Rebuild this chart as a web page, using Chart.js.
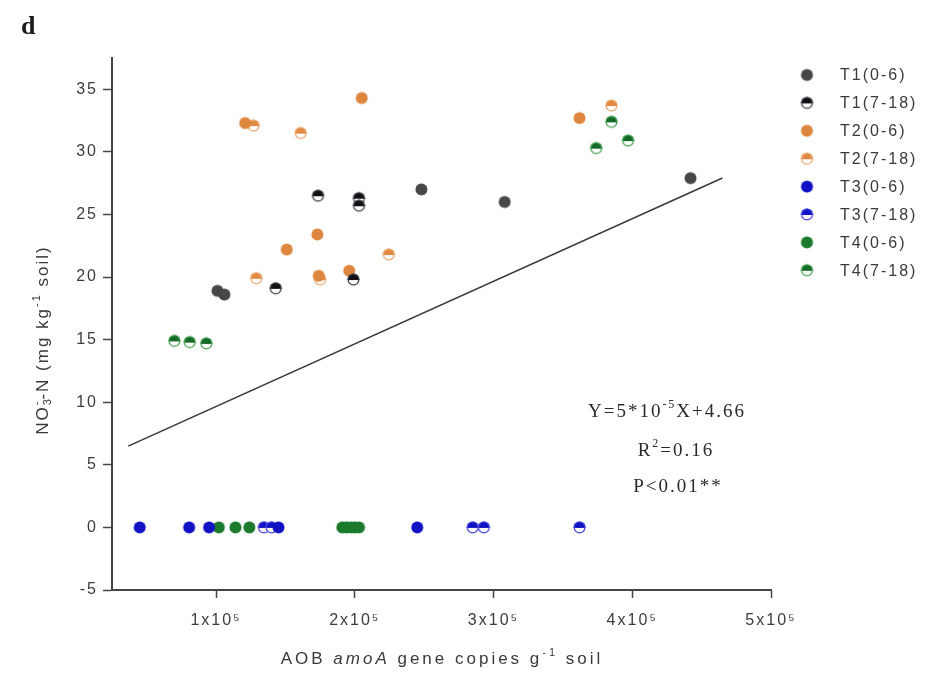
<!DOCTYPE html>
<html>
<head>
<meta charset="utf-8">
<script src="https://cdn.jsdelivr.net/npm/chart.js@4.4.1/dist/chart.umd.min.js"></script>
<style>
  html, body { margin: 0; padding: 0; background: #ffffff; }
  #wrap { width: 928px; height: 676px; position: relative; }
</style>
</head>
<body>
<div id="wrap"><canvas id="chart" width="928" height="676"></canvas></div>
<script>
// ---- data: NO3--N versus AOB amoA gene copies, by treatment and depth ----
const seriesNames = ['T1(0-6)', 'T1(7-18)', 'T2(0-6)', 'T2(7-18)', 'T3(0-6)', 'T3(7-18)', 'T4(0-6)', 'T4(7-18)'];

const t1TopX = [101000, 106000, 248000, 308000, 442000];
const t1TopY = [18.9, 18.6, 27.0, 26.0, 27.9];
const t1SubX = [173500, 203000, 203000, 143000, 199000];
const t1SubY = [26.5, 26.3, 25.7, 19.1, 19.8];

const t2TopX = [121000, 151000, 173000, 174000, 196000, 205000, 362000];
const t2TopY = [32.3, 22.2, 23.4, 20.1, 20.5, 34.3, 32.7];
const t2SubX = [127000, 161000, 129000, 175000, 224500, 385000];
const t2SubY = [32.1, 31.5, 19.9, 19.8, 21.8, 33.7];

const t3TopX = [45000, 80600, 95000, 145000, 245000];
const t3TopY = [0, 0, 0, 0, 0];
const t3SubX = [134500, 140000, 285000, 293000, 362000];
const t3SubY = [0, 0, 0, 0, 0];

const t4TopX = [102000, 114000, 124000, 191000, 194000, 197000, 200000, 203000];
const t4TopY = [0, 0, 0, 0, 0, 0, 0, 0];
const t4SubX = [70000, 81000, 93000, 374000, 385000, 397000];
const t4SubY = [14.9, 14.8, 14.7, 30.3, 32.4, 30.9];

// fitted regression, as printed: Y = 5*10^-5 X + 4.66
const fitSlope = 5e-5;
const fitIntercept = 4.66;
const fitRangeX = [36700, 465000];

const xTickValues = [100000, 200000, 300000, 400000, 500000];
const yTickValues = [-5, 0, 5, 10, 15, 20, 25, 30, 35];

// ---- marker glyphs: solid circle for 0-6 cm, half-filled circle for 7-18 cm ----
function makeMarker(fill, ring, half) {
  const s = 15, r = 6;
  const c = document.createElement('canvas');
  c.width = s; c.height = s;
  const g = c.getContext('2d');
  const cx = s / 2, cy = s / 2;
  if (half) {
    g.beginPath(); g.arc(cx, cy, r, 0, Math.PI * 2); g.fillStyle = '#ffffff'; g.fill();
    g.beginPath(); g.arc(cx, cy, r, Math.PI, 0); g.lineTo(cx + r, cy + 0.6); g.lineTo(cx - r, cy + 0.6); g.closePath();
    g.fillStyle = fill; g.fill();
    g.beginPath(); g.arc(cx, cy, r - 0.6, 0, Math.PI * 2); g.strokeStyle = ring; g.lineWidth = 1.2; g.stroke();
  } else {
    g.beginPath(); g.arc(cx, cy, r, 0, Math.PI * 2); g.fillStyle = fill; g.fill();
  }
  return c;
}

const markerStyles = [
  makeMarker('#474747', '#474747', false),
  makeMarker('#111111', '#3a3a48', true),
  makeMarker('#dd863d', '#dd863d', false),
  makeMarker('#e28a42', '#e9a66a', true),
  makeMarker('#1212c4', '#1212c4', false),
  makeMarker('#1212c4', '#3b3bd6', true),
  makeMarker('#1b7a2b', '#1b7a2b', false),
  makeMarker('#146a26', '#3f9e50', true)
];

const xsList = [t1TopX, t1SubX, t2TopX, t2SubX, t3TopX, t3SubX, t4TopX, t4SubX];
const ysList = [t1TopY, t1SubY, t2TopY, t2SubY, t3TopY, t3SubY, t4TopY, t4SubY];

const datasets = seriesNames.map((name, k) => ({
  type: 'scatter',
  label: name,
  data: xsList[k].map((x, i) => ({ x: x, y: ysList[k][i] })),
  pointStyle: markerStyles[k],
  pointRadius: 6,
  order: 1
}));

datasets.push({
  type: 'line',
  label: 'fit',
  data: fitRangeX.map(x => ({ x: x, y: fitSlope * x + fitIntercept })),
  borderColor: '#3a3a3a',
  borderWidth: 1.6,
  pointRadius: 0,
  fill: false,
  order: 2
});

// ---- text helpers ----
function drawRuns(ctx, runs, cx, cy, spacing) {
  // runs: [{t, font, dy}] laid out left to right, centred on cx
  ctx.save();
  ctx.letterSpacing = spacing + 'px';
  let total = 0;
  runs.forEach(r => { ctx.font = r.font; r.w = ctx.measureText(r.t).width; total += r.stack ? 0 : r.w; });
  let x = cx - total / 2;
  ctx.textBaseline = 'middle';
  ctx.textAlign = 'left';
  runs.forEach(r => {
    ctx.font = r.font;
    ctx.fillText(r.t, x, cy + (r.dy || 0));
    if (!r.stack) x += r.w;
  });
  ctx.restore();
}

const decorations = {
  id: 'decorations',
  beforeDraw(chart) {
    const ctx = chart.ctx;
    ctx.save();
    ctx.fillStyle = '#ffffff';
    ctx.fillRect(0, 0, chart.width, chart.height);
    ctx.restore();
    ctx.letterSpacing = '2px';
  },
  afterDraw(chart) {
    const ctx = chart.ctx;
    ctx.letterSpacing = '0px';
    const sans = 'Liberation Sans, Arial, sans-serif';
    const serif = 'Liberation Serif, Times New Roman, serif';

    // panel letter
    ctx.save();
    ctx.fillStyle = '#1a1a1a';
    ctx.font = 'bold 26px ' + serif;
    ctx.textBaseline = 'alphabetic';
    ctx.fillText('d', 21, 34);
    ctx.restore();

    // y axis title
    ctx.save();
    ctx.fillStyle = '#3a3a3a';
    ctx.translate(43, 340);
    ctx.rotate(-Math.PI / 2);
    drawRuns(ctx, [
      { t: 'NO', font: '17px ' + sans },
      { t: '3', font: '11px ' + sans, dy: 5, stack: true },
      { t: '-', font: '11px ' + sans, dy: -6 },
      { t: '-N (mg kg', font: '17px ' + sans },
      { t: '-1', font: '11px ' + sans, dy: -6 },
      { t: ' soil)', font: '17px ' + sans }
    ], 0, 0, 2);
    ctx.restore();

    // x axis title
    ctx.save();
    ctx.fillStyle = '#3a3a3a';
    drawRuns(ctx, [
      { t: 'AOB ', font: '17px ' + sans },
      { t: 'amoA', font: 'italic 17px ' + sans },
      { t: ' gene copies g', font: '17px ' + sans },
      { t: '-1', font: '11px ' + sans, dy: -6 },
      { t: ' soil', font: '17px ' + sans }
    ], 442, 659, 3);
    ctx.restore();

    // regression annotation
    ctx.save();
    ctx.fillStyle = '#2a2a2a';
    drawRuns(ctx, [
      { t: 'Y=5*10', font: '19px ' + serif },
      { t: '-5', font: '12px ' + serif, dy: -7 },
      { t: 'X+4.66', font: '19px ' + serif }
    ], 667, 412, 2);
    drawRuns(ctx, [
      { t: 'R', font: '19px ' + serif },
      { t: '2', font: '12px ' + serif, dy: -7 },
      { t: '=0.16', font: '19px ' + serif }
    ], 676, 451, 2);
    drawRuns(ctx, [
      { t: 'P<0.01**', font: '19px ' + serif }
    ], 678, 487, 2);
    ctx.restore();

    // legend
    ctx.save();
    ctx.fillStyle = '#3a3a3a';
    ctx.font = '16px ' + sans;
    ctx.letterSpacing = '2px';
    ctx.textBaseline = 'middle';
    seriesNames.forEach((name, k) => {
      const y = 75 + k * 27.9;
      const img = markerStyles[k];
      ctx.drawImage(img, 807 - img.width / 2, y - img.height / 2);
      ctx.fillText(name, 840, y + 1);
    });
    ctx.restore();
  }
};

const axisColor = '#454545';
const tickFont = { family: 'Liberation Sans, Arial, sans-serif', size: 16 };

new Chart(document.getElementById('chart').getContext('2d'), {
  type: 'scatter',
  data: { datasets: datasets },
  options: {
    responsive: false,
    animation: false,
    devicePixelRatio: 1,
    layout: { padding: { left: 0, right: 157, top: 58, bottom: 0 } },
    plugins: { legend: { display: false }, tooltip: { enabled: false } },
    scales: {
      x: {
        type: 'linear',
        min: 25000,
        max: 500000,
        afterBuildTicks: s => { s.ticks = xTickValues.map(v => ({ value: v })); },
        afterFit: s => { s.height = 86; },
        grid: { drawOnChartArea: false, drawTicks: true, tickLength: 8, tickColor: axisColor, tickWidth: 1.5 },
        border: { color: axisColor, width: 2 },
        ticks: {
          callback: v => (v / 100000) + 'x10⁵',
          font: tickFont, color: '#3c3c3c', padding: 13, maxRotation: 0, autoSkip: false
        }
      },
      y: {
        min: -5,
        max: 37.5,
        afterBuildTicks: s => { s.ticks = yTickValues.map(v => ({ value: v })); },
        afterFit: s => { s.width = 112; },
        grid: { drawOnChartArea: false, drawTicks: true, tickLength: 9, tickColor: axisColor, tickWidth: 1.5 },
        border: { color: axisColor, width: 2 },
        ticks: { font: tickFont, color: '#3c3c3c', padding: 5 }
      }
    }
  },
  plugins: [decorations]
});
</script>
</body>
</html>
